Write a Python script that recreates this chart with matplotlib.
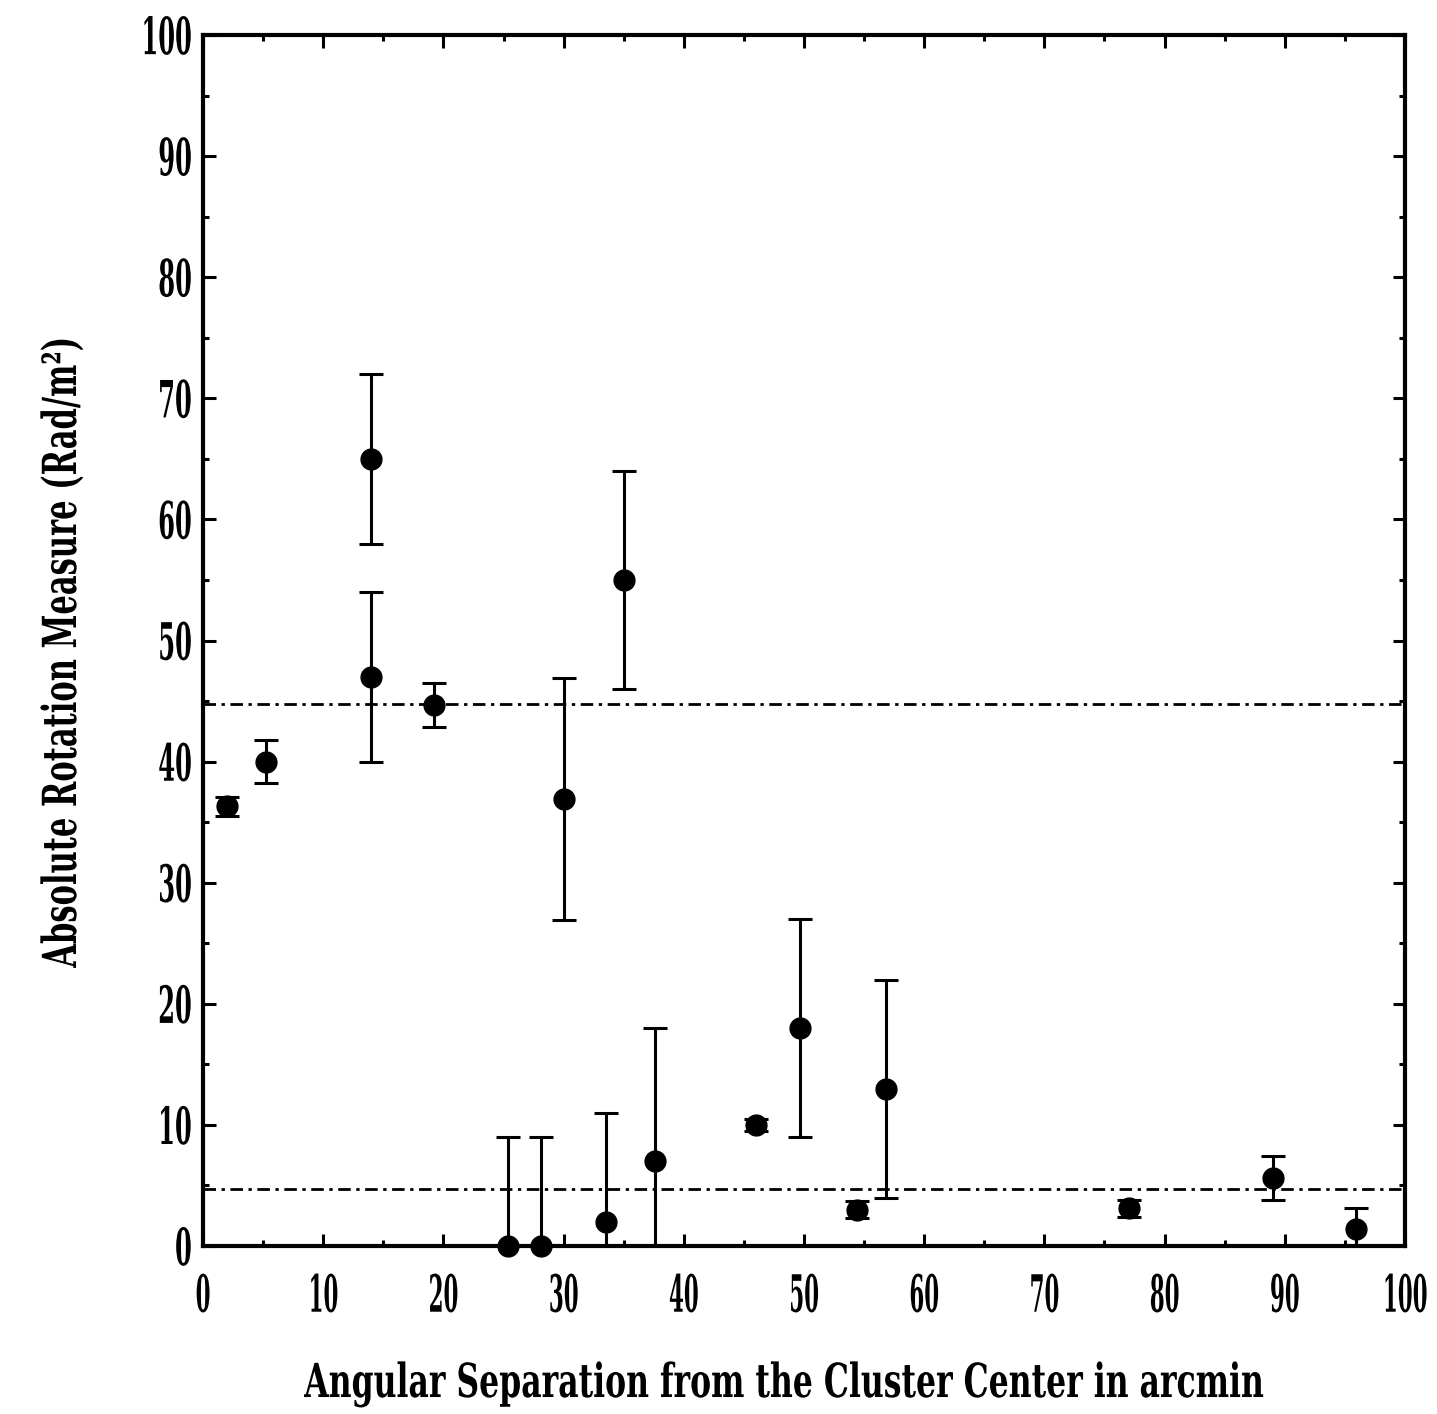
import matplotlib
matplotlib.use('Agg')
import matplotlib.pyplot as plt
from matplotlib.ticker import MultipleLocator
from matplotlib.patheffects import AbstractPathEffect
from matplotlib.transforms import Affine2D

# angular separation (arcmin), |RM| (rad/m^2) and 1-sigma errors
sep = [2.0, 5.2, 14.0, 14.0, 19.2, 25.4, 28.1, 30.0, 33.5, 35.0,
       37.6, 46.0, 49.7, 54.4, 56.8, 77.0, 89.0, 95.9]
rm = [36.3, 40.0, 65.0, 47.0, 44.7, 0.0, 0.0, 36.9, 2.0, 55.0,
      7.0, 10.0, 18.0, 3.0, 13.0, 3.1, 5.6, 1.4]
rm_err = [0.8, 1.8, 7.0, 7.0, 1.8, 9.0, 9.0, 10.0, 9.0, 9.0,
          11.0, 0.5, 9.0, 0.7, 9.0, 0.7, 1.8, 1.7]

# mean levels drawn as dash-dot lines
levels = [44.8, 4.7]


class Squeeze(AbstractPathEffect):
    """Stretch the glyph outlines of a text (narrow, tall lettering).

    The anchor is given as a fraction of the glyph bbox; ay=None keeps
    the baseline fixed.
    """

    def __init__(self, sx, sy, ax=0.5, ay=None):
        super().__init__()
        self.sx, self.sy, self.ax, self.ay = sx, sy, ax, ay

    def draw_path(self, renderer, gc, tpath, affine, rgbFace=None):
        bb = tpath.get_extents()
        x0 = bb.x0 + self.ax * bb.width
        y0 = 0.0 if self.ay is None else bb.y0 + self.ay * bb.height
        t = (Affine2D().translate(-x0, -y0).scale(self.sx, self.sy)
             .translate(x0, y0))
        renderer.draw_path(gc, tpath, t + affine, rgbFace)


font = dict(family='DejaVu Serif', weight='bold')

fig = plt.figure(figsize=(14.37, 14.14), dpi=100)
ax = fig.add_axes([0.1413, 0.1188, 0.8364, 0.8564])

for lv in levels:
    ax.axhline(lv, color='black', lw=2, ls=(0, (4.5, 2, 1.2, 2)))

pts, caps, bars = ax.errorbar(sep, rm, yerr=rm_err, fmt='o', color='black',
                              ms=15, elinewidth=2.2, capsize=8.5,
                              capthick=2.2)
# points sitting on the axis stay whole; the bars are still clipped
pts.set_clip_on(False)

ax.set_xlim(0, 100)
ax.set_ylim(0, 100)
ax.xaxis.set_major_locator(MultipleLocator(10))
ax.xaxis.set_minor_locator(MultipleLocator(5))
ax.yaxis.set_major_locator(MultipleLocator(10))
ax.yaxis.set_minor_locator(MultipleLocator(5))
ax.tick_params(which='both', direction='in', top=True, right=True, width=2.2)
ax.tick_params(which='major', length=9)
ax.tick_params(which='minor', length=4.5)
ax.tick_params(axis='x', pad=26)
ax.tick_params(axis='y', pad=8)
for sp in ax.spines.values():
    sp.set_linewidth(3)

for lab in ax.get_xticklabels():
    lab.set(fontsize=20, **font)
    lab.set_path_effects([Squeeze(0.77, 1.85, 0.5, 0.5)])
for lab in ax.get_yticklabels():
    lab.set(fontsize=20, **font)
    lab.set_path_effects([Squeeze(0.87, 1.85, 1.0, 0.5)])

ax.set_xlabel('Angular Separation from the Cluster Center in arcmin',
              fontsize=26, **font)
ax.xaxis.label.set_path_effects([Squeeze(0.872, 1.3)])
ax.xaxis.label.set_va('baseline')
ax.xaxis.set_label_coords(0.484, -0.1247)

ax.set_ylabel('Absolute Rotation Measure (Rad/m²)', fontsize=26, **font)
ax.yaxis.label.set_path_effects([Squeeze(0.846, 1.3)])
ax.yaxis.label.set_va('baseline')
ax.yaxis.set_label_coords(-0.1057, 0.491)

fig.savefig('out.png', dpi=100)
